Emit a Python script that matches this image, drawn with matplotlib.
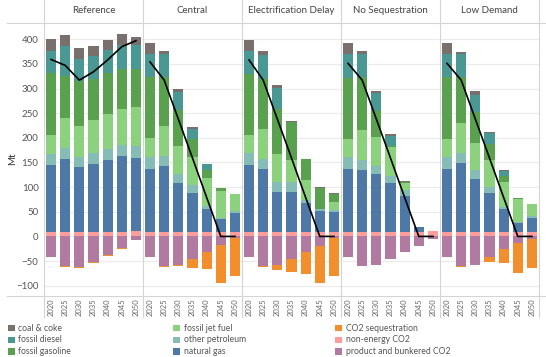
import matplotlib
matplotlib.use("Agg")
import matplotlib.pyplot as plt
import numpy as np
from matplotlib.patches import Rectangle
from matplotlib.lines import Line2D

plt.rcParams['font.family'] = ['Lato', 'DejaVu Sans']

scenarios = ["Reference", "Central", "Electrification Delay", "No Sequestration", "Low Demand"]
years = ["2020", "2025", "2030", "2035", "2040", "2045", "2050"]

# positive components (Mt), one row per scenario
non_energy_co2 = [[8, 8, 8, 8, 8, 8, 11],
                  [8, 8, 8, 8, 8, 8, 8],
                  [8, 8, 8, 8, 8, 8, 8],
                  [8, 8, 8, 8, 8, 8, 11],
                  [8, 8, 8, 8, 8, 8, 8]]
natural_gas = [[137, 150, 133, 139.5, 147, 155, 148.5],
               [129, 135, 101, 79.4, 47.6, 26.5, 38.8],
               [136, 128.7, 83, 83, 59.4, 43.5, 41.5],
               [129, 127, 118, 101, 73, 11.6, 0],
               [129.4, 140.8, 108.4, 80.6, 46.8, 20, 28.5]]
other_petroleum = [[23, 21, 20, 21, 22, 22, 24.7],
                   [24, 20, 17, 17, 6.8, 2, 4.7],
                   [24.5, 19.6, 19, 20, 6.6, 5, 3.4],
                   [23.6, 20, 17.6, 14, 14, 0, 0],
                   [23.6, 20, 17.6, 12, 4, 2, 5.5]]
fossil_jet_fuel = [[37, 61, 63, 67, 71, 74, 78],
                   [38, 62, 58, 57.5, 55.4, 55.4, 35.4],
                   [36.5, 60.7, 57.5, 44, 40, 0, 17.6],
                   [36.6, 61, 58, 59, 13, 0, 0],
                   [36.6, 60.4, 55.4, 54, 50.7, 45, 23.6]]
fossil_gasoline = [[126, 85, 91, 84.5, 83, 80, 77],
                   [124, 98, 72, 36, 17, 5.8, 0],
                   [125, 101.7, 90, 76.4, 43, 42, 16],
                   [125, 107, 52, 2, 3, 0, 0],
                   [125, 93.3, 63.6, 33, 13.5, 3, 0]]
fossil_diesel = [[46, 62, 44, 46.7, 47, 50, 50],
                 [48, 47, 37, 21, 12, 0, 0],
                 [46, 48.7, 44, 0, 0, 0, 0],
                 [47, 47, 37, 19.6, 0, 0, 0],
                 [47, 46.7, 34.6, 21.7, 9.5, 0, 0]]
coal_coke = [[23, 22, 23, 20, 20, 21, 16],
             [22, 7, 6, 4, 0.5, 1, 0],
             [22, 9.5, 5, 2, 1, 1, 1],
             [23, 7, 5, 3.4, 1.5, 0, 0],
             [23, 5.4, 6.7, 2.7, 1.5, 0.5, 0]]
# negative components
product_bunkered_co2 = [[-41, -61, -63, -52, -38, -24, -7],
                        [-41, -61, -59, -46, -31, -18, -4],
                        [-41, -61, -59, -45, -31, -19, -4],
                        [-41, -61, -59, -45, -31, -19, -5],
                        [-41, -61, -57, -41, -26, -14, -5]]
co2_sequestration = [[-1, -1, -1, -1, -1, -1, -1],
                     [-1, -2, -2, -18, -35, -76, -77],
                     [-1, -1, -10, -28, -45, -76, -77],
                     [0, 0, 0, 0, 0, 0, -1],
                     [-1, -1, -1, -11, -28, -61, -59]]
# net emissions line
net_emissions = [[359, 347, 317, 334, 358, 385, 397],
                 [354, 317, 238, 159, 79, 0, 0],
                 [358, 317, 238, 159, 79, 0, 0],
                 [351, 317, 238, 159, 79, 0, 0],
                 [351, 317, 238, 159, 79, 0, 0]]

pos_series = [("non-energy CO2", non_energy_co2, "#FF9D9A"),
              ("natural gas", natural_gas, "#4E79A7"),
              ("other petroleum", other_petroleum, "#86BCB6"),
              ("fossil jet fuel", fossil_jet_fuel, "#8CD17D"),
              ("fossil gasoline", fossil_gasoline, "#59A14F"),
              ("fossil diesel", fossil_diesel, "#499894"),
              ("coal & coke", coal_coke, "#79706E")]
neg_series = [("product and bunkered CO2", product_bunkered_co2, "#B07AA1"),
              ("CO2 sequestration", co2_sequestration, "#F28E2B")]
colors = dict((n, c) for n, _, c in pos_series + neg_series)

W, H = 546, 357
fig = plt.figure(figsize=(W / 100, H / 100), dpi=100)

def fx(px):
    return px / W

def fy(py):
    return 1 - py / H

left_px, right_px, top_px, bottom_px = 44, 539, 22.7, 295.7
pw = (right_px - left_px) / len(scenarios)
x = np.arange(len(years))
bw = 0.72
grid_c = "#ebebeb"
line_c = "#d4d4d4"

for i, scen in enumerate(scenarios):
    ax = fig.add_axes([fx(left_px + i * pw), fy(bottom_px), fx(pw), (bottom_px - top_px) / H])
    ax.set_xlim(-0.5, len(years) - 0.5)
    ax.set_ylim(-120.3, 433.6)
    bottom = np.zeros(len(years))
    for name, data, col in pos_series:
        v = np.array(data[i], dtype=float)
        ax.bar(x, v, bw, bottom=bottom, color=col, linewidth=0)
        bottom += v
    nb = np.zeros(len(years))
    for name, data, col in neg_series:
        v = np.array(data[i], dtype=float)
        ax.bar(x, v, bw, bottom=nb, color=col, linewidth=0)
        nb += v
    ax.plot(x, net_emissions[i], color="black", lw=1.2, zorder=5)
    ax.set_yticks([-100, -50, 0, 50, 100, 150, 200, 250, 300, 350, 400])
    ax.grid(axis="y", color=grid_c, lw=0.8)
    ax.set_axisbelow(True)
    for s in ax.spines.values():
        s.set_visible(False)
    ax.set_xticks(x)
    ax.set_xticklabels(years, rotation=90, fontsize=5.5, color="#666666")
    ax.tick_params(length=0, pad=2)
    if i == 0:
        ax.tick_params(axis="y", labelsize=7, labelcolor="#555555", pad=4)
    else:
        ax.tick_params(axis="y", labelleft=False)
    fig.text(fx(left_px + (i + 0.5) * pw), fy(10.5), scen, ha="center", va="center",
             fontsize=7, color="#444444")

# frame lines
fig.add_artist(Line2D([fx(7), 1], [fy(top_px), fy(top_px)], color=line_c, lw=0.8))
fig.add_artist(Line2D([fx(7), 1], [fy(bottom_px), fy(bottom_px)], color=line_c, lw=0.8))
for i in range(len(scenarios) + 1):
    xx = fx(left_px + i * pw)
    fig.add_artist(Line2D([xx, xx], [fy(0), fy(317)], color=line_c, lw=0.8))

fig.text(fx(13), fy(159), "Mt", rotation=90, ha="center", va="center", fontsize=7, color="#333333")

# legend
legend_cols = [["coal & coke", "fossil diesel", "fossil gasoline"],
               ["fossil jet fuel", "other petroleum", "natural gas"],
               ["CO2 sequestration", "non-energy CO2", "product and bunkered CO2"]]
col_x = [8, 173, 335]
row_y = [328.2, 340, 351.7]
sq = 6.5
for ci, names in enumerate(legend_cols):
    for ri, name in enumerate(names):
        fig.add_artist(Rectangle((fx(col_x[ci]), fy(row_y[ri] + sq / 2)), sq / W, sq / H,
                                 facecolor=colors[name], edgecolor="none"))
        fig.text(fx(col_x[ci] + 10.5), fy(row_y[ri]), name, ha="left", va="center",
                 fontsize=6.2, color="#555555")

fig.savefig("out.png", dpi=100)
